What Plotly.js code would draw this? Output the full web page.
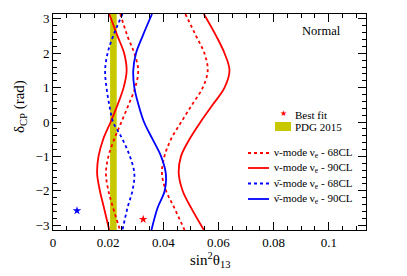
<!DOCTYPE html>
<html>
<head>
<meta charset="utf-8">
<script src="https://cdn.plot.ly/plotly-3.0.1.min.js"></script>
<style>html,body{margin:0;padding:0;background:#fff;}#chart{width:407px;height:276px;}</style>
</head>
<body>
<div id="chart"></div>
<script>
// delta_CP sampling (rad), top to bottom
const deltaCP = [3.1416, 2.5, 2, 1.5, 1, 0.5, 0, -0.5, -1, -1.5, -2, -2.5, -3.1416];

// nu-mode nu_e 68CL (two branches)
const nu68Left  = [0.0244, 0.0270, 0.0295, 0.0309, 0.0298, 0.0274, 0.0248, 0.0222, 0.0201, 0.0192, 0.0201, 0.0218, 0.0243];
const nu68Right = [0.0480, 0.0519, 0.0549, 0.0561, 0.0543, 0.0504, 0.0465, 0.0428, 0.0404, 0.0395, 0.0410, 0.0440, 0.0477];
// nu-mode nu_e 90CL (two branches)
const nu90Left  = [0.0204, 0.0234, 0.0258, 0.0267, 0.0256, 0.0234, 0.0209, 0.0182, 0.0165, 0.0160, 0.0170, 0.0185, 0.0204];
const nu90Right = [0.0547, 0.0592, 0.0622, 0.0640, 0.0622, 0.0579, 0.0535, 0.0495, 0.0464, 0.0456, 0.0470, 0.0501, 0.0547];
// antinu-mode nu_e 68CL
const anu68 = [0.0252, 0.0218, 0.0198, 0.0189, 0.0194, 0.0204, 0.0218, 0.0252, 0.0279, 0.0295, 0.0288, 0.0270, 0.0252];
// antinu-mode nu_e 90CL
const anu90 = [0.0359, 0.0325, 0.0301, 0.0291, 0.0295, 0.0310, 0.0330, 0.0361, 0.0392, 0.0409, 0.0405, 0.0379, 0.0357];

// best fit points
const bestFitNu  = {x: [0.0327], y: [-2.83]};
const bestFitAnu = {x: [0.0087], y: [-2.58]};

// PDG 2015 sin^2 theta13 band
const pdgLow = 0.0207, pdgHigh = 0.0231;
const deltaMin = -Math.PI, deltaMax = Math.PI;

const legendLabels = [
  "ν-mode ν<sub>e</sub> - 68CL",
  "ν-mode ν<sub>e</sub> - 90CL",
  "ν\u0304-mode ν<sub>e</sub> - 68CL",
  "ν\u0304-mode ν<sub>e</sub> - 90CL"
];

const RED = "#ff0000", BLUE = "#0000ff", YEL = "#c8c800";
const FONT = "Liberation Serif";

function curve(x, color, dash) {
  return {x: x, y: deltaCP, type: "scatter", mode: "lines",
    line: {color: color, width: 1.8, dash: dash, shape: "spline", smoothing: 1},
    showlegend: false, hoverinfo: "skip"};
}

const traces = [
  {x: [pdgLow, pdgHigh, pdgHigh, pdgLow, pdgLow], y: [deltaMin, deltaMin, deltaMax, deltaMax, deltaMin],
   type: "scatter", mode: "lines", fill: "toself", fillcolor: YEL, line: {width: 0, color: YEL}, showlegend: false},
  curve(nu68Left, RED, "dot"),
  curve(nu68Right, RED, "dot"),
  curve(nu90Left, RED, "solid"),
  curve(nu90Right, RED, "solid"),
  curve(anu68, BLUE, "dot"),
  curve(anu90, BLUE, "solid"),
  {x: bestFitNu.x, y: bestFitNu.y, type: "scatter", mode: "markers",
   marker: {symbol: "star", size: 6.5, color: RED, line: {width: 0}}, showlegend: false},
  {x: bestFitAnu.x, y: bestFitAnu.y, type: "scatter", mode: "markers",
   marker: {symbol: "star", size: 6.5, color: BLUE, line: {width: 0}}, showlegend: false}
];

// plot area in pixels: left 53, right 366, top 14, bottom 230
const PX = px => (px - 53) / 313;
const PY = py => (230 - py) / 216;

const shapes = [
  {type: "rect", xref: "paper", yref: "paper", x0: PX(275), x1: PX(291), y0: PY(131), y1: PY(122),
   fillcolor: YEL, line: {width: 0}},
];
const legColors = [RED, RED, BLUE, BLUE];
const legDash = ["dot", "solid", "dot", "solid"];
const legY = [153, 168, 183.5, 199];
for (let i = 0; i < 4; i++) {
  shapes.push({type: "line", xref: "paper", yref: "paper", x0: PX(248), x1: PX(269),
    y0: PY(legY[i]), y1: PY(legY[i]), line: {color: legColors[i], width: 1.8, dash: legDash[i]}});
}

const annotations = [
  {xref: "paper", yref: "paper", x: PX(283), y: PY(114), text: "★", showarrow: false,
   font: {family: "DejaVu Sans", size: 8, color: RED}, xanchor: "center", yanchor: "middle"},
  {xref: "paper", yref: "paper", x: PX(293), y: PY(114.5), text: "Best fit", showarrow: false,
   font: {family: FONT, size: 11, color: "#000"}, xanchor: "left", yanchor: "middle"},
  {xref: "paper", yref: "paper", x: PX(293), y: PY(127), text: "PDG 2015", showarrow: false,
   font: {family: FONT, size: 11, color: "#000"}, xanchor: "left", yanchor: "middle"},
  {xref: "paper", yref: "paper", x: PX(300), y: PY(31), text: "Normal", showarrow: false,
   font: {family: FONT, size: 12.5, color: "#000"}, xanchor: "left", yanchor: "middle"},
  {xref: "paper", yref: "paper", x: PX(20), y: PY(107), text: "δ<sub>CP</sub> (rad)", showarrow: false,
   textangle: -90, font: {family: FONT, size: 15, color: "#000"}, xanchor: "center", yanchor: "middle"},
  {xref: "paper", yref: "paper", x: PX(210), y: PY(260), text: "sin<sup>2</sup>θ<sub>13</sub>", showarrow: false,
   font: {family: FONT, size: 15, color: "#000"}, xanchor: "center", yanchor: "middle"}
];
for (let i = 0; i < 4; i++) {
  annotations.push({xref: "paper", yref: "paper", x: PX(272), y: PY(legY[i]), text: legendLabels[i],
    showarrow: false, font: {family: FONT, size: 11, color: "#000"}, xanchor: "left", yanchor: "middle"});
}

const axisCommon = {
  showgrid: false, zeroline: false, showline: true, linecolor: "#000", linewidth: 1,
  mirror: "allticks", ticks: "inside", ticklen: 8, tickwidth: 1, tickcolor: "#000",
  tickfont: {family: FONT, size: 13, color: "#000"}
};

const layout = {
  width: 407, height: 276,
  margin: {l: 53, r: 41, t: 14, b: 46, pad: 0},
  paper_bgcolor: "#fff", plot_bgcolor: "#fff",
  font: {family: FONT, color: "#000"},
  showlegend: false,
  xaxis: Object.assign({}, axisCommon, {
    range: [0, 0.1135], tick0: 0, dtick: 0.02,
    minor: {dtick: 0.005, ticks: "inside", ticklen: 4, tickcolor: "#000", showgrid: false}
  }),
  yaxis: Object.assign({}, axisCommon, {
    range: [deltaMin, deltaMax], tick0: 0, dtick: 1,
    minor: {dtick: 0.2, ticks: "inside", ticklen: 4, tickcolor: "#000", showgrid: false}
  }),
  shapes: shapes,
  annotations: annotations
};

Plotly.newPlot("chart", traces, layout, {staticPlot: true, displayModeBar: false});
</script>
</body>
</html>
